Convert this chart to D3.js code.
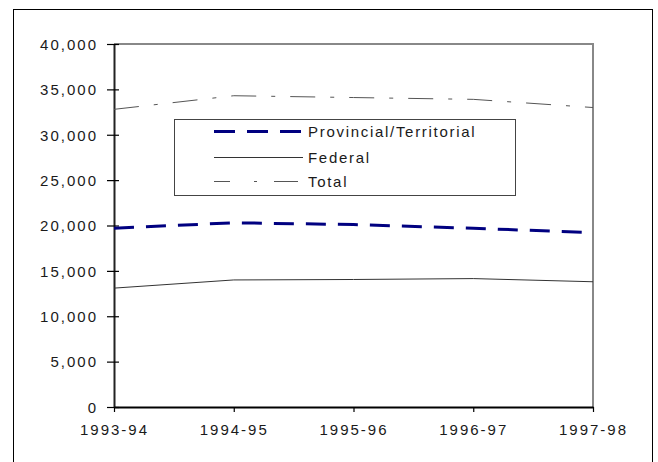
<!DOCTYPE html>
<html>
<head>
<meta charset="utf-8">
<script src="https://cdn.jsdelivr.net/npm/d3@7"></script>
<style>
  html, body { margin: 0; padding: 0; background: #fff; }
  svg { display: block; font-family: "Liberation Sans", Arial, sans-serif; }
</style>
</head>
<body>
<svg id="chart" width="658" height="462"></svg>
<script>
const categories = ["1993-94", "1994-95", "1995-96", "1996-97", "1997-98"];
const provincial = [19700, 20300, 20100, 19700, 19200];
const federal = [13100, 14000, 14050, 14150, 13800];
const total = [32800, 34300, 34100, 33900, 33000];
const yTicks = [0, 5000, 10000, 15000, 20000, 25000, 30000, 35000, 40000];
const seriesNames = ["Provincial/Territorial", "Federal", "Total"];

const svg = d3.select("#chart");
const plotLeft = 114, plotRight = 593, plotTop = 44, plotBottom = 407;

const x = d3.scalePoint().domain(categories).range([plotLeft, plotRight]);
const y = d3.scaleLinear().domain([0, 40000]).range([plotBottom, plotTop]);
const fmt = d3.format(",");

// outer frame
svg.append("rect").attr("x", 13.5).attr("y", 9.5).attr("width", 639).attr("height", 470)
  .attr("fill", "none").attr("stroke", "#000").attr("stroke-width", 1);

// plot frame top/right (gray)
svg.append("path")
  .attr("d", `M${plotLeft},${plotTop}H${plotRight}V${plotBottom}`)
  .attr("fill", "none").attr("stroke", "#888").attr("stroke-width", 2);

// y axis
const yAxis = svg.append("g").attr("transform", `translate(${plotLeft},0)`)
  .call(d3.axisLeft(y).tickValues(yTicks).tickFormat(fmt).tickSizeOuter(0).tickSizeInner(6).tickPadding(0));
yAxis.select(".domain").attr("stroke", "#222").attr("stroke-width", 2);
yAxis.selectAll(".tick line").attr("x1", 5).attr("x2", -7).attr("stroke", "#000").attr("stroke-width", 1.2);
yAxis.selectAll(".tick text")
  .attr("x", -16).attr("dy", "0.35em")
  .attr("font-size", 15).attr("letter-spacing", "2px")
  .attr("font-family", "Liberation Sans, Arial, sans-serif").attr("fill", "#1a1a1a");

// x axis
const xAxis = svg.append("g").attr("transform", `translate(0,${plotBottom})`)
  .call(d3.axisBottom(x).tickSizeOuter(0).tickSizeInner(5).tickPadding(0));
xAxis.select(".domain").attr("stroke", "#000").attr("stroke-width", 2);
xAxis.selectAll(".tick line").attr("stroke", "#000").attr("stroke-width", 1.2);
xAxis.selectAll(".tick text")
  .attr("y", 28).attr("dy", 0)
  .attr("font-size", 15).attr("letter-spacing", "2px")
  .attr("font-family", "Liberation Sans, Arial, sans-serif").attr("fill", "#1a1a1a");

const line = d3.line().x((d, i) => x(categories[i])).y(d => y(d));

const styles = [
  { data: provincial, stroke: "#000080", width: 3, dash: "20,12" },
  { data: federal, stroke: "#333", width: 1, dash: null },
  { data: total, stroke: "#555", width: 1, dash: "25,15,4,15" }
];

styles.forEach(s => {
  svg.append("path").datum(s.data)
    .attr("d", line)
    .attr("fill", "none")
    .attr("stroke", s.stroke)
    .attr("stroke-width", s.width)
    .attr("stroke-dasharray", s.dash);
});

// legend
const lg = svg.append("g");
lg.append("rect").attr("x", 174.5).attr("y", 119.5).attr("width", 341).attr("height", 76)
  .attr("fill", "#fff").attr("stroke", "#444").attr("stroke-width", 1);
const legendY = [131.5, 157.5, 181.5];
const legendDash = ["21,12", null, "16,24,3,17,24"];
seriesNames.forEach((name, i) => {
  const s = styles[i];
  lg.append("line").attr("x1", 214).attr("x2", 303)
    .attr("y1", legendY[i]).attr("y2", legendY[i])
    .attr("stroke", s.stroke).attr("stroke-width", s.width)
    .attr("stroke-dasharray", legendDash[i]);
  lg.append("text").attr("x", 308).attr("y", legendY[i] + 5.5)
    .attr("font-size", 15).attr("letter-spacing", "1.7px").attr("fill", "#1a1a1a")
    .text(name);
});
</script>
</body>
</html>
